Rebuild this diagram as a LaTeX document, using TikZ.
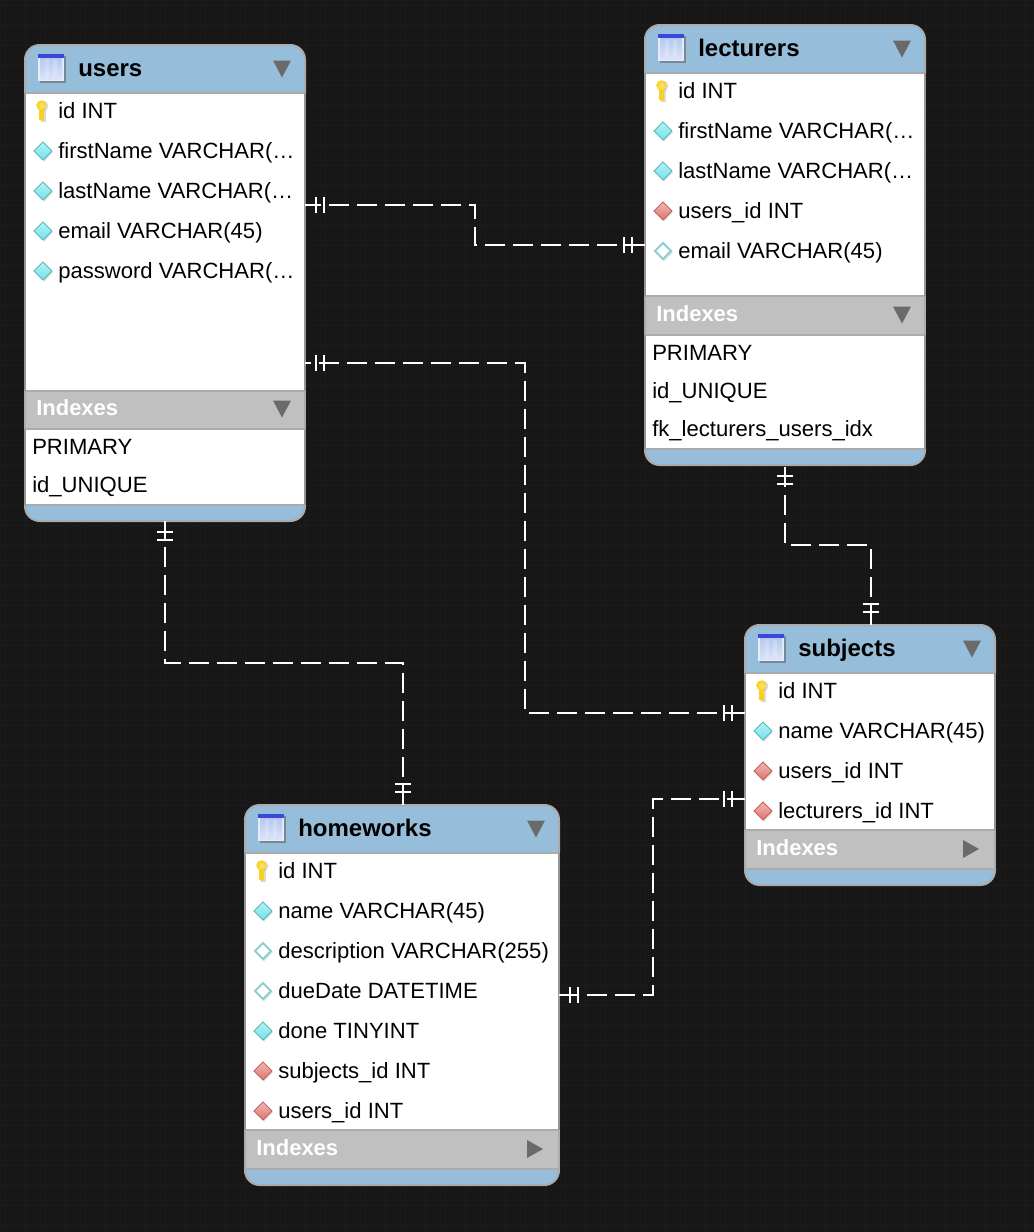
\documentclass[tikz,border=0pt]{standalone}
\usepackage{fontspec}
\setmainfont{Liberation Sans}
\definecolor{bgc}{HTML}{171717}
\definecolor{gridc}{HTML}{1C1C1C}
\definecolor{headc}{HTML}{96BDD9}
\definecolor{idxc}{HTML}{C0C0C0}
\definecolor{edgec}{HTML}{ABABAB}
\definecolor{sidec}{HTML}{969696}
\definecolor{arrowc}{HTML}{6A6A6A}
\definecolor{cyanc}{HTML}{6FE3EA}
\definecolor{redc}{HTML}{E2736C}
\definecolor{openc}{HTML}{8CCFD0}
\definecolor{keyc}{HTML}{F7D11E}
\definecolor{iconbar}{HTML}{3A47D9}
\definecolor{iconbody}{HTML}{B4C8F0}
\tikzset{
  tablebox/.style={anchor=north west,inner sep=0pt,outer sep=0pt,fill=white,rounded corners=11pt},
  titletext/.style={anchor=base west,inner sep=0pt,font=\fontsize{18}{20}\selectfont\bfseries,text=black},
  indexhead/.style={anchor=base west,inner sep=0pt,font=\fontsize{16.5}{20}\selectfont\bfseries,text=white},
  rowtext/.style={anchor=base west,inner sep=0pt,font=\fontsize{16.55}{20}\selectfont,text=black},
  conn/.style={draw=white,line width=1.5pt,dash pattern=on 15pt off 6pt},
  crossfoot/.style={draw=white,line width=1.5pt},
  sepline/.style={draw=edgec,line width=1.5pt},
  arrowmark/.style={fill=arrowc,draw=none},
}
\newcommand\Table[9]{%
  \node[tablebox,minimum width={(#4-#2)*0.75pt},minimum height={(#5-#3)*0.75pt}] (#1) at (#2,#3) {};
  \begin{scope}
    \clip[rounded corners=11pt] (#1.north west) rectangle (#1.south east);
    \fill[headc] (#2,#3) rectangle (#4,#6);
    \fill[idxc] (#2,#7) rectangle (#4,#8);
    \fill[headc] (#2,#9) rectangle (#4,#5);
    \draw[sepline] (#2,#6) -- (#4,#6);
    \draw[sepline] (#2,#7) -- (#4,#7);
    \draw[sepline] (#2,#8) -- (#4,#8);
    \draw[sepline] (#2,#9) -- (#4,#9);
  \end{scope}
  \draw[sidec,line width=1.5pt] (#2,#6) -- (#2,#7) (#4,#6) -- (#4,#7) (#2,#8) -- (#2,#9) (#4,#8) -- (#4,#9);
  \draw[edgec,line width=1.5pt,rounded corners=11pt] (#2,#6) -- (#2,#3) -- (#4,#3) -- (#4,#6);
  \draw[edgec,line width=1.5pt] (#2,#7) -- (#2,#8) (#4,#7) -- (#4,#8);
  \draw[edgec,line width=1.5pt,rounded corners=11pt] (#2,#9) -- (#2,#5) -- (#4,#5) -- (#4,#9);
  % table icon
  \fill[black!60,opacity=.6] (#2+15,#3+11) rectangle (#2+41,#3+38);
  \fill[iconbody!35!white] (#2+13,#3+9) rectangle (#2+39,#3+36);
  \shade[top color=iconbody,bottom color=iconbody!50!white] (#2+15,#3+13) rectangle (#2+37,#3+34);
  \fill[white,opacity=.2] (#2+20,#3+14) rectangle (#2+24,#3+33) (#2+28,#3+14) rectangle (#2+32,#3+33);
  \fill[iconbar] (#2+13,#3+9) rectangle (#2+39,#3+13);
}
\newcommand\DownMark[2]{\fill[arrowmark] (#1-9,#2-8.5) -- (#1+9,#2-8.5) -- (#1,#2+8.5) -- cycle;}
\newcommand\RightMark[2]{\fill[arrowmark] (#1-8,#2-9) -- (#1+8,#2) -- (#1-8,#2+9) -- cycle;}
\newcommand\KeyIcon[2]{%
  \fill[black!40,opacity=.35] (#1+1.5,#2-5) circle[radius=5.4];
  \fill[black!40,opacity=.35] (#1-.8,#2-2) rectangle (#1+4.4,#2+10.5);
  \fill[keyc] (#1-2.8,#2-2) rectangle (#1+2.6,#2+7);
  \fill[keyc] (#1-2.8,#2+7) -- (#1+2.6,#2+7) -- (#1+2.6,#2+9) -- (#1,#2+10) -- (#1-2.8,#2+8) -- cycle;
  \shade[inner color=white!40!keyc,outer color=keyc] (#1,#2-5.5) circle[radius=5.2];
}
\newcommand\Diam[4]{%
  \fill[black!50,opacity=.3] (#1+1,#2-7.5) -- (#1+9.5,#2+1.5) -- (#1+1,#2+10.5) -- (#1-7.5,#2+1.5) -- cycle;
  \shade[top color=white!50!#3,bottom color=#3,draw=#4,line width=.6pt] (#1,#2-9) -- (#1+9,#2) -- (#1,#2+9) -- (#1-9,#2) -- cycle;
}
\newcommand\OpenDiam[2]{%
  \fill[black!50,opacity=.25] (#1+1,#2-7.5) -- (#1+9.5,#2+1.5) -- (#1+1,#2+10.5) -- (#1-7.5,#2+1.5) -- cycle;
  \draw[openc,fill=white,line width=1.4pt] (#1,#2-8) -- (#1+8,#2) -- (#1,#2+8) -- (#1-8,#2) -- cycle;
}
\newcommand\Col[5]{%
  \csname Ic#4\endcsname{#2+18}{#3}%
  \node[rowtext] (#1) at (#2+33,#3+7.8) {#5};
}
\newcommand\Ickey[2]{\KeyIcon{#1-1.5}{#2}}
\newcommand\Iccol[2]{\Diam{#1}{#2}{cyanc}{cyanc!80!black}}
\newcommand\Icfk[2]{\Diam{#1}{#2}{redc}{redc!85!black}}
\newcommand\Icopen[2]{\OpenDiam{#1}{#2}}
\newcommand\Idx[4]{\node[rowtext] (#1) at (#2+7,#3+7.6) {#4};}
\newcommand\VTick[2]{\draw[crossfoot] (#1,#2-8) -- (#1,#2+8);}
\newcommand\HTick[2]{\draw[crossfoot] (#1-8,#2) -- (#1+8,#2);}
\begin{document}
\begin{tikzpicture}[x=0.75pt,y=-0.75pt]
\useasboundingbox (0,0) rectangle (1034,1232);
\fill[bgc] (0,0) rectangle (1034,1232);
\foreach \g in {5,25,...,1025} \draw[gridc,line width=.75pt] (\g,0) -- (\g,1232);
\foreach \g in {5,25,...,1225} \draw[gridc,line width=.75pt] (0,\g) -- (1034,\g);

% users
\Table{users}{25}{45}{305}{521}{93}{391}{429}{505}
\node[titletext] (usersT) at (78,76) {users};
\DownMark{282}{69}
\Col{u1}{25}{111}{key}{id INT}
\Col{u2}{25}{151}{col}{firstName VARCHAR(…}
\Col{u3}{25}{191}{col}{lastName VARCHAR(…}
\Col{u4}{25}{231}{col}{email VARCHAR(45)}
\Col{u5}{25}{271}{col}{password VARCHAR(…}
\node[indexhead] (usersI) at (36,415) {Indexes};
\DownMark{282}{409}
\Idx{ui1}{25}{447}{PRIMARY}
\Idx{ui2}{25}{485}{id\_UNIQUE}

% lecturers
\Table{lecturers}{645}{25}{925}{465}{73}{296}{335}{449}
\node[titletext] (lecturersT) at (698,56) {lecturers};
\DownMark{902}{49}
\Col{l1}{645}{91}{key}{id INT}
\Col{l2}{645}{131}{col}{firstName VARCHAR(…}
\Col{l3}{645}{171}{col}{lastName VARCHAR(…}
\Col{l4}{645}{211}{fk}{users\_id INT}
\Col{l5}{645}{251}{open}{email VARCHAR(45)}
\node[indexhead] (lecturersI) at (656,321) {Indexes};
\DownMark{902}{315}
\Idx{li1}{645}{353}{PRIMARY}
\Idx{li2}{645}{391}{id\_UNIQUE}
\Idx{li3}{645}{429}{fk\_lecturers\_users\_idx}

% subjects
\Table{subjects}{745}{625}{995}{885}{673}{830}{869}{869}
\node[titletext] (subjectsT) at (798,656) {subjects};
\DownMark{972}{649}
\Col{s1}{745}{691}{key}{id INT}
\Col{s2}{745}{731}{col}{name VARCHAR(45)}
\Col{s3}{745}{771}{fk}{users\_id INT}
\Col{s4}{745}{811}{fk}{lecturers\_id INT}
\node[indexhead] (subjectsI) at (756,855) {Indexes};
\RightMark{971}{849}

% homeworks
\Table{homeworks}{245}{805}{559}{1185}{853}{1130}{1169}{1169}
\node[titletext] (homeworksT) at (298,836) {homeworks};
\DownMark{536}{829}
\Col{h1}{245}{871}{key}{id INT}
\Col{h2}{245}{911}{col}{name VARCHAR(45)}
\Col{h3}{245}{951}{open}{description VARCHAR(255)}
\Col{h4}{245}{991}{open}{dueDate DATETIME}
\Col{h5}{245}{1031}{col}{done TINYINT}
\Col{h6}{245}{1071}{fk}{subjects\_id INT}
\Col{h7}{245}{1111}{fk}{users\_id INT}
\node[indexhead] (homeworksI) at (256,1155) {Indexes};
\RightMark{535}{1149}

% connectors
\draw[conn,dash phase=3pt] (users.east |- 0,205) -- (475,205) -- (475,245) -- (lecturers.west |- 0,245);
\VTick{316}{205}\VTick{324}{205}\VTick{624}{245}\VTick{632}{245}

\draw[conn,dash phase=10.5pt] (users.east |- 0,363) -- (525,363) -- (525,713) -- (subjects.west |- 0,713);
\VTick{316}{363}\VTick{324}{363}\VTick{724}{713}\VTick{732}{713}

\draw[conn,dash phase=1.5pt] (165,0 |- users.south) -- (165,663) -- (403,663) -- (403,0 |- homeworks.north);
\HTick{165}{532}\HTick{165}{540}\HTick{403}{784}\HTick{403}{792}

\draw[conn,dash phase=19.5pt] (785,0 |- lecturers.south) -- (785,545) -- (871,545) -- (871,0 |- subjects.north);
\HTick{785}{476}\HTick{785}{484}\HTick{871}{604}\HTick{871}{612}

\draw[conn] (homeworks.east |- 0,995) -- (653,995) -- (653,799) -- (subjects.west |- 0,799);
\VTick{570}{995}\VTick{578}{995}\VTick{724}{799}\VTick{732}{799}
\end{tikzpicture}
\end{document}
